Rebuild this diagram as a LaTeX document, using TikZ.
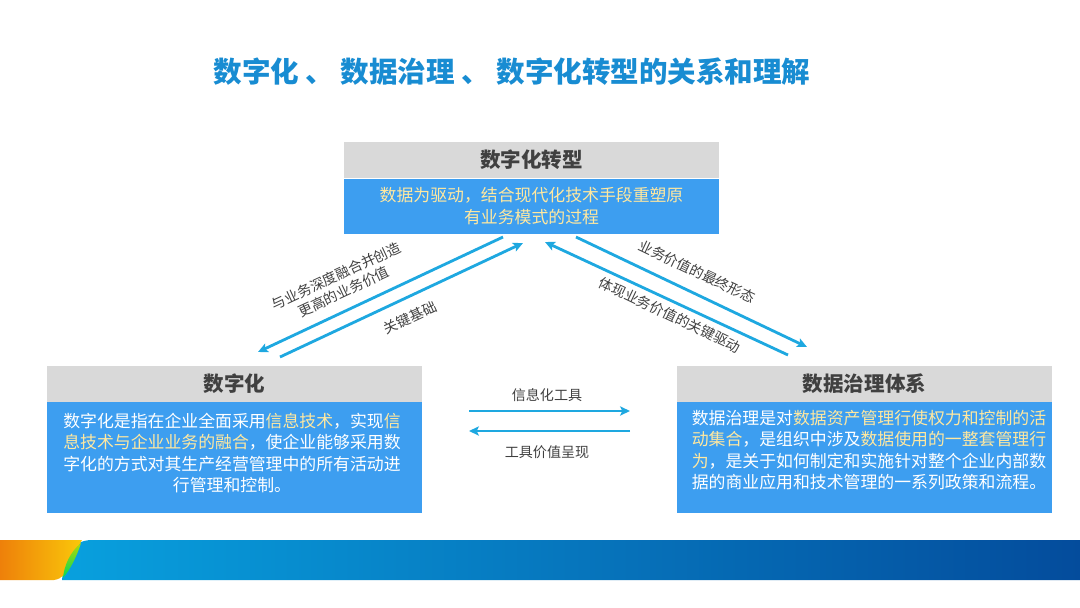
\documentclass[tikz,border=0pt]{standalone}
\usepackage{fontspec}
\newfontfamily\cjk{Noto Sans CJK SC}
\usetikzlibrary{arrows.meta,positioning}
\definecolor{dgtitle}{RGB}{24,140,210}
\definecolor{dghead}{RGB}{217,217,217}
\definecolor{dgbody}{RGB}{61,158,240}
\definecolor{dgink}{RGB}{64,64,64}
\definecolor{dgwarm}{RGB}{255,232,160}
\definecolor{dgarrow}{RGB}{30,168,224}
\definecolor{dgorange}{RGB}{238,128,10}
\definecolor{dgyellow}{RGB}{250,200,10}
\definecolor{dgband}{RGB}{8,160,222}
\definecolor{dgdeep}{RGB}{4,76,156}
\newcommand{\hl}[1]{\textcolor{dgwarm}{#1}}

\begin{document}
\begin{tikzpicture}[x=.025cm,y=-.025cm,font=\cjk,
    head/.style={fill=dghead,minimum width=9.375cm,minimum height=.9cm,inner sep=0pt,
      text=dgink,font=\cjk\bfseries\fontsize{14.6}{16}\selectfont},
    body/.style={fill=dgbody,minimum width=9.375cm,inner sep=0pt},
    txt/.style={text=white,inner sep=0pt,font=\cjk\fontsize{12}{15.2}\selectfont},
    flow/.style={dgarrow,line width=2pt,-{Stealth[length=7pt,width=6.5pt,inset=1.5pt]}},
    tag/.style={text=dgink,inner sep=1pt,font=\cjk\fontsize{10}{12.5}\selectfont}]
  \useasboundingbox (0,0) rectangle (1080,607);

  % title
  \node[text=dgtitle,font=\cjk\bfseries\fontsize{20.3}{23}\selectfont] (title) at (512,72)
    {数字化 、 数据治理 、 数字化转型的关系和理解};

  % three boxes
  \node[head] (tHead) at (531.5,160) {数字化转型};
  \node[body,minimum height=1.375cm,below=0pt of tHead] (tBody) {};
  \node[txt,text=dgwarm,align=center] (tText) at (tBody)
    {数据为驱动，结合现代化技术手段重塑原\\有业务模式的过程};

  \node[head] (lHead) at (234.5,383.5) {数字化};
  \node[body,minimum height=2.775cm,below=0pt of lHead] (lBody) {};
  \node[txt,align=center] (lText) at (232,453)
    {数字化是指在企业全面采用\hl{信息技术}，实现\hl{信}\\
     \hl{息技术与企业业务的融合}，使企业能够采用数\\
     字化的方式对其生产经营管理中的所有活动进\\
     行管理和控制。};

  \node[head] (rHead) at (864.5,383.5) {数据治理体系};
  \node[body,minimum height=2.775cm,below=0pt of rHead] (rBody) {};
  \node[txt,align=left] (rText) at (869,450)
    {数据治理是对\hl{数据资产管理行使权力和控制的活}\\
     \hl{动集合}，是组织中涉及\hl{数据使用的一整套管理行}\\
     \hl{为}，是关于如何制定和实施针对整个企业内部数\\
     据的商业应用和技术管理的一系列政策和流程。};

  % arrow ends
  \coordinate (l1s) at (503,237);  \coordinate (l1e) at (258,352);
  \coordinate (l2s) at (280,357);  \coordinate (l2e) at (523,243);
  \coordinate (r1s) at (576,237);  \coordinate (r1e) at (807,347);
  \coordinate (r2s) at (788,355);  \coordinate (r2e) at (545,242);
  \coordinate (m1s) at (469,411);  \coordinate (m1e) at (630,411);
  \coordinate (m2s) at (630,431);  \coordinate (m2e) at (469,431);

  \draw[flow] (l1s) -- (l1e);
  \draw[flow] (l2s) -- (l2e);
  \draw[flow] (r1s) -- (r1e);
  \draw[flow] (r2s) -- (r2e);
  \draw[flow] (m1s) -- (m1e);
  \draw[flow] (m2s) -- (m2e);

  \node[tag,rotate=25,align=center] (lUp) at (340,284)
    {与业务深度融合并创造\\更高的业务价值};
  \node[tag,rotate=25] (lDown) at (410,318) {关键基础};
  \node[tag,rotate=-25.5] (rUp) at (697,272) {业务价值的最终形态};
  \node[tag,rotate=-25.5] (rDown) at (670,315) {体现业务价值的关键驱动};
  \node[tag] (mUp) at (547,395) {信息化工具};
  \node[tag] (mDown) at (547,452) {工具价值呈现};

  % footer band
  \shade[left color=dgband,right color=dgdeep]
    (62,580) .. controls (64,560) and (70,540) .. (92,540) -- (1080,540) -- (1080,580) -- cycle;
  \shade[left color=dgorange,right color=dgyellow]
    (0,540) -- (82,540) .. controls (72,556) and (70,578) .. (54,580) -- (0,580) -- cycle;
  \shade[top color=dgyellow!70!green,bottom color=green!60!dgband]
    (81,543) .. controls (70,552) and (64,566) .. (63,578) .. controls (70,570) and (77,556) .. (81,543);
\end{tikzpicture}
\end{document}
